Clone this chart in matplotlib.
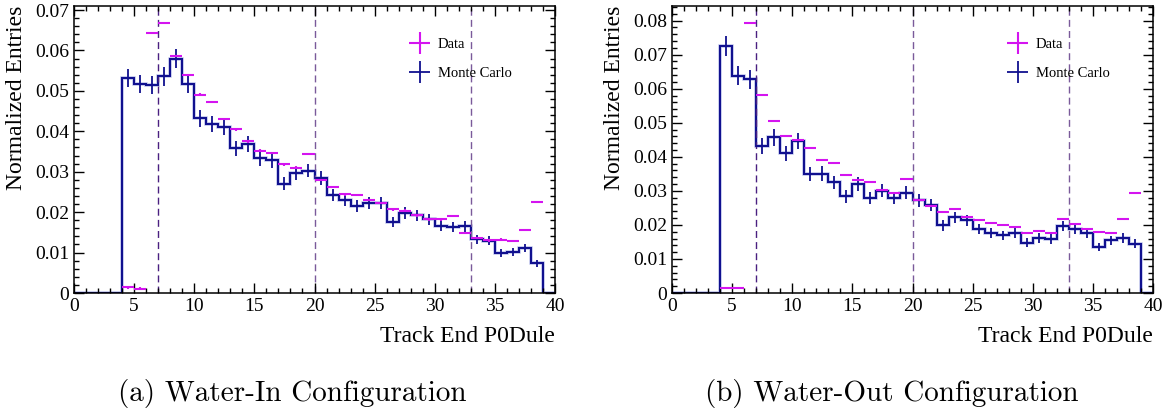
import matplotlib

matplotlib.use("Agg")
import matplotlib.pyplot as plt
import numpy as np
from matplotlib.legend_handler import HandlerErrorbar
from matplotlib.ticker import MultipleLocator

# bin edges 0..40, one bin per P0Dule
edges = list(range(41))

# water-in, Monte Carlo (bins 0..39)
mc_in = [0, 0, 0, 0, 0.0532, 0.0518, 0.0514, 0.0536, 0.0580, 0.0516,
         0.0432, 0.0419, 0.0411, 0.0358, 0.0369, 0.0333, 0.0328, 0.0270, 0.0297, 0.0303,
         0.0284, 0.0243, 0.0229, 0.0215, 0.0223, 0.0223, 0.0176, 0.0198, 0.0192, 0.0182,
         0.0166, 0.0163, 0.0165, 0.0133, 0.0129, 0.0100, 0.0101, 0.0112, 0.0073, 0]
mc_in_err = [0, 0, 0, 0, 0.0023, 0.0022, 0.0022, 0.0023, 0.0024, 0.0022,
             0.0021, 0.0020, 0.0020, 0.0019, 0.0019, 0.0018, 0.0018, 0.0016, 0.0017, 0.0017,
             0.0017, 0.0015, 0.0015, 0.0014, 0.0015, 0.0015, 0.0013, 0.0014, 0.0014, 0.0013,
             0.0013, 0.0013, 0.0013, 0.0011, 0.0011, 0.0010, 0.0010, 0.0010, 0.0008, 0]

# water-in, data
data_in = [0, 0, 0, 0, 0.0014, 0.0011, 0.0643, 0.0668, 0.0587, 0.0539,
           0.0491, 0.0473, 0.0431, 0.0405, 0.0375, 0.0352, 0.0346, 0.0318, 0.0310, 0.0344,
           0.0280, 0.0262, 0.0244, 0.0242, 0.0230, 0.0223, 0.0207, 0.0204, 0.0192, 0.0182,
           0.0182, 0.0190, 0.0148, 0.0136, 0.0130, 0.0132, 0.0129, 0.0156, 0.0225, 0]

# water-out, Monte Carlo
mc_out = [0, 0, 0, 0, 0.0725, 0.0638, 0.0628, 0.0432, 0.0457, 0.0410,
          0.0446, 0.0349, 0.0351, 0.0325, 0.0284, 0.0320, 0.0280, 0.0301, 0.0278, 0.0295,
          0.0272, 0.0259, 0.0199, 0.0222, 0.0214, 0.0188, 0.0176, 0.0169, 0.0177, 0.0148,
          0.0161, 0.0158, 0.0197, 0.0187, 0.0175, 0.0135, 0.0155, 0.0162, 0.0145, 0]
mc_out_err = [0, 0, 0, 0, 0.0030, 0.0028, 0.0028, 0.0023, 0.0024, 0.0022,
              0.0023, 0.0021, 0.0021, 0.0020, 0.0019, 0.0020, 0.0018, 0.0019, 0.0018, 0.0019,
              0.0018, 0.0018, 0.0016, 0.0016, 0.0016, 0.0015, 0.0015, 0.0014, 0.0015, 0.0013,
              0.0014, 0.0014, 0.0015, 0.0015, 0.0014, 0.0013, 0.0013, 0.0014, 0.0013, 0]

# water-out, data
data_out = [0, 0, 0, 0, 0.0015, 0.0015, 0.0794, 0.0582, 0.0506, 0.0461,
            0.0449, 0.0425, 0.0390, 0.0382, 0.0347, 0.0333, 0.0325, 0.0303, 0.0294, 0.0335,
            0.0273, 0.0256, 0.0239, 0.0246, 0.0224, 0.0214, 0.0205, 0.0200, 0.0194, 0.0176,
            0.0182, 0.0176, 0.0218, 0.0204, 0.0189, 0.0180, 0.0175, 0.0216, 0.0294, 0]

data_err = 0.0003
cut_lines = [7, 20, 33]

MC_COLOR = "#10108f"
DATA_COLOR = "#d414f0"
SERIF = ["Liberation Serif", "DejaVu Serif"]


def draw_panel(ax, mc, mc_err, data, ymax, caption, fig, cx):
    centers = np.array(edges[:-1]) + 0.5
    mc = np.array(mc)
    data = np.array(data)
    ax.stairs(mc, edges, color="#c8cdf0", linewidth=2.6, baseline=0)
    ax.stairs(mc, edges, color=MC_COLOR, linewidth=1.5, baseline=0)
    keep = mc > 0
    h_mc = ax.errorbar(centers[keep], mc[keep], yerr=np.array(mc_err)[keep], xerr=0.5,
                       fmt="none", ecolor=MC_COLOR, elinewidth=1.3)
    keep = data > 0
    h_data = ax.errorbar(centers[keep], data[keep], yerr=data_err, xerr=0.5,
                         fmt="none", ecolor=DATA_COLOR, elinewidth=1.5)
    for i, x in enumerate(cut_lines):
        ax.axvline(x, color="#4a2080" if i == 0 else "#7a5a9a", linewidth=1.0,
                   linestyle=(0, (5, 3)), zorder=1)

    ax.set_xlim(0, 40)
    ax.set_ylim(0, ymax)
    ax.xaxis.set_major_locator(MultipleLocator(5))
    ax.xaxis.set_minor_locator(MultipleLocator(1))
    ax.yaxis.set_major_locator(MultipleLocator(0.01))
    ax.yaxis.set_minor_locator(MultipleLocator(0.002))
    ax.yaxis.set_major_formatter(lambda v, p: "0" if abs(v) < 1e-9 else f"{v:.2f}")
    ax.tick_params(which="both", direction="in", top=True, right=True,
                   labelsize=14, width=1.0, colors="black")
    ax.tick_params(which="major", length=7)
    ax.tick_params(which="minor", length=3.8)
    for lab in ax.get_xticklabels() + ax.get_yticklabels():
        lab.set_family(SERIF)
    for s in ax.spines.values():
        s.set_linewidth(1.1)

    ax.set_xlabel("Track End P0Dule", loc="right", fontsize=17, family=SERIF, labelpad=8)
    ax.set_ylabel("Normalized Entries", loc="top", fontsize=17, family=SERIF, labelpad=6)

    ax.legend([h_data, h_mc], ["Data", "Monte Carlo"], frameon=False, loc="upper left",
              bbox_to_anchor=(0.679, 0.915), borderpad=0, labelspacing=1.12,
              handlelength=1.6, handletextpad=0.45,
              prop={"family": SERIF, "size": 10.5},
              handler_map={type(h_data): HandlerErrorbar(xerr_size=0.75, yerr_size=0.75)})

    fig.text(cx, 22 / 415, caption, ha="center", va="center", fontsize=21, family="cmr10")


fig = plt.figure(figsize=(11.66, 4.15), dpi=100)
ax_a = fig.add_axes([74 / 1166, 122 / 415, 481 / 1166, 287 / 415])
ax_b = fig.add_axes([672 / 1166, 122 / 415, 481 / 1166, 287 / 415])

draw_panel(ax_a, mc_in, mc_in_err, data_in, 0.0710, "(a) Water-In Configuration", fig, 292 / 1166)
draw_panel(ax_b, mc_out, mc_out_err, data_out, 0.0843, "(b) Water-Out Configuration", fig, 892 / 1166)

fig.savefig("out.png", dpi=100)
